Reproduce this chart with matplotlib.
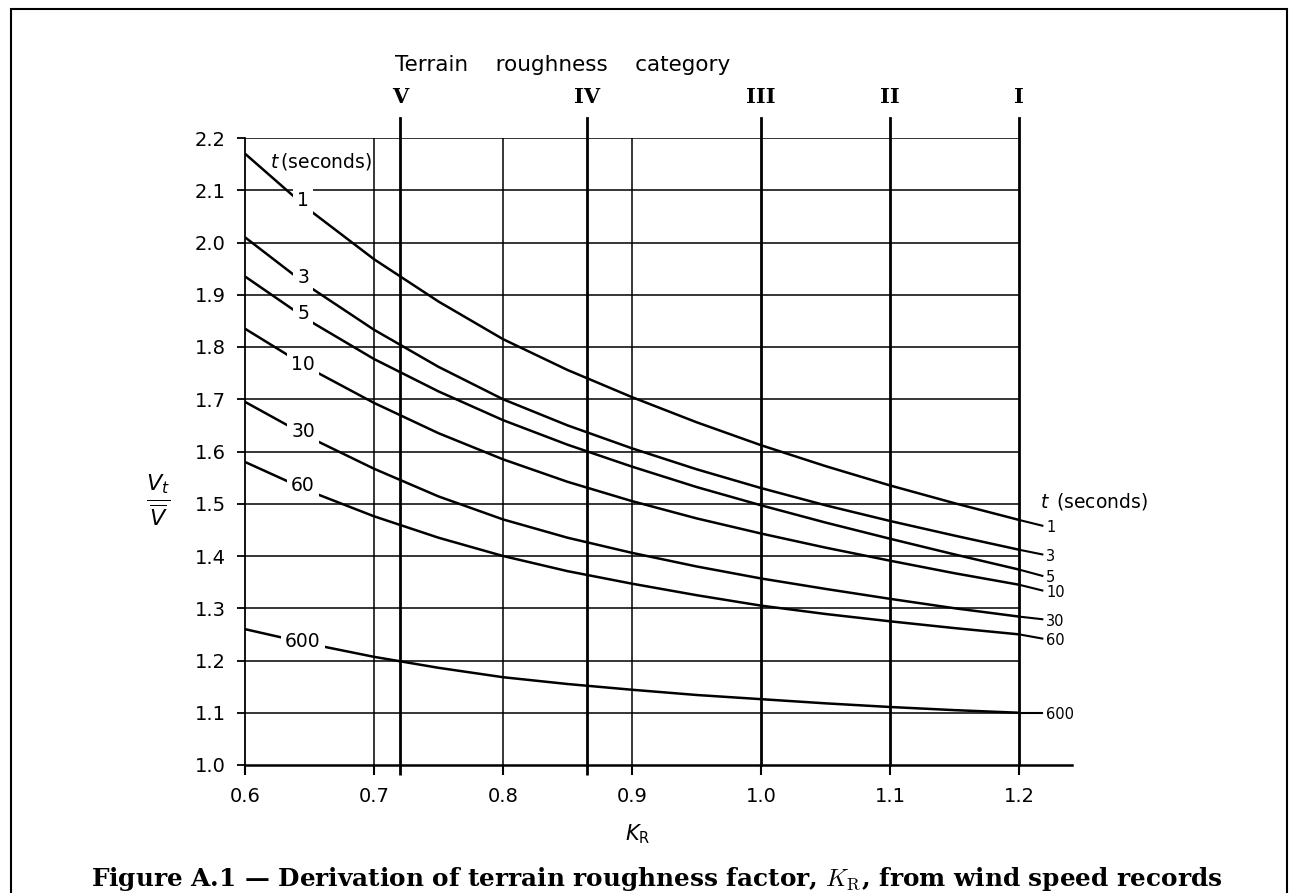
import matplotlib
matplotlib.use('Agg')
import matplotlib.pyplot as plt
from matplotlib.patches import Rectangle

# DATA
kr = [0.6, 0.65, 0.7, 0.75, 0.8, 0.85, 0.9, 0.95, 1.0, 1.05, 1.1, 1.15, 1.2]
t_labels = ['1', '3', '5', '10', '30', '60', '600']
ratio_t1 = [2.17, 2.062, 1.968, 1.887, 1.815, 1.756, 1.704, 1.656, 1.612, 1.572, 1.535, 1.501, 1.469]
ratio_t3 = [2.01, 1.915, 1.833, 1.762, 1.70, 1.65, 1.606, 1.566, 1.53, 1.497, 1.467, 1.439, 1.412]
ratio_t5 = [1.935, 1.85, 1.777, 1.715, 1.66, 1.613, 1.571, 1.532, 1.497, 1.464, 1.433, 1.403, 1.374]
ratio_t10 = [1.835, 1.759, 1.693, 1.635, 1.585, 1.542, 1.505, 1.472, 1.443, 1.416, 1.391, 1.367, 1.345]
ratio_t30 = [1.695, 1.627, 1.567, 1.514, 1.47, 1.435, 1.406, 1.38, 1.357, 1.337, 1.318, 1.30, 1.284]
ratio_t60 = [1.58, 1.524, 1.476, 1.435, 1.40, 1.371, 1.347, 1.325, 1.305, 1.289, 1.275, 1.262, 1.25]
ratio_t600 = [1.26, 1.232, 1.207, 1.186, 1.168, 1.155, 1.144, 1.134, 1.126, 1.118, 1.111, 1.105, 1.10]
curves = [ratio_t1, ratio_t3, ratio_t5, ratio_t10, ratio_t30, ratio_t60, ratio_t600]

left_label_y = [2.08, 1.933, 1.865, 1.767, 1.639, 1.535, 1.237]
right_label_y = [1.458, 1.403, 1.362, 1.334, 1.279, 1.242, 1.10]

category_names = ['V', 'IV', 'III', 'II', 'I']
category_kr = [0.72, 0.865, 1.0, 1.1, 1.2]

x_ticks = [0.6, 0.7, 0.8, 0.9, 1.0, 1.1, 1.2]
x_ticklabels = ['0.6', '0.7', '0.8', '0.9', '1.0', '1.1', '1.2']
y_ticks = [1.0, 1.1, 1.2, 1.3, 1.4, 1.5, 1.6, 1.7, 1.8, 1.9, 2.0, 2.1, 2.2]

plt.rcParams['font.family'] = ['DejaVu Sans']
plt.rcParams['mathtext.fontset'] = 'dejavusans'

fig = plt.figure(figsize=(12.98, 8.93), dpi=100)
ax = fig.add_axes([245 / 1298, 128 / 893, 827 / 1298, 627 / 893])
ax.set_xlim(0.6, 1.241)
ax.set_ylim(1.0, 2.2)

# GRID
for y in y_ticks[1:]:
    ax.plot([0.6, 1.2], [y, y], color='black', lw=1.1, zorder=1)
for x in [0.7, 0.8, 0.9]:
    ax.plot([x, x], [1.0, 2.2], color='black', lw=1.1, zorder=1)
for x in category_kr:
    ax.plot([x, x], [1.0, 2.238], color='black', lw=2.0, zorder=1, clip_on=False)

# CURVES AND LABELS
for vals, lab, ly, ry in zip(curves, t_labels, left_label_y, right_label_y):
    ax.plot(kr, vals, color='black', lw=1.8, zorder=2, solid_capstyle='butt', solid_joinstyle='round')
    ax.plot([kr[-1], 1.218], [vals[-1], ry], color='black', lw=1.5, zorder=2, clip_on=False)
    ax.text(1.221, ry - 0.004, lab, fontsize=10.5, ha='left', va='center', clip_on=False)
    ax.text(0.645, ly, lab, fontsize=13.5, ha='center', va='center', zorder=3,
            bbox=dict(facecolor='white', edgecolor='none', pad=3))

ax.text(0.619, 2.155, r'$t\,$(seconds)', fontsize=13.5, ha='left', va='center', zorder=3,
        bbox=dict(facecolor='white', edgecolor='none', pad=0.5))
ax.text(1.216, 1.505, r'$t\,$ (seconds)', fontsize=13.5, ha='left', va='center', clip_on=False)

for name, x in zip(category_names, category_kr):
    ax.text(x, 2.278, name, fontsize=15, ha='center', va='center',
            family='DejaVu Serif', fontweight='bold', clip_on=False)
ax.text(0.716, 2.34, 'Terrain    roughness    category', fontsize=15.5, ha='left', va='center', clip_on=False)

# AXES
for s in ['top', 'right']:
    ax.spines[s].set_visible(False)
ax.spines['left'].set_linewidth(1.3)
ax.spines['bottom'].set_linewidth(1.8)
ax.set_xticks(x_ticks)
ax.set_xticklabels(x_ticklabels)
ax.set_xticks([0.72, 0.865], minor=True)
ax.set_yticks(y_ticks)
ax.set_yticklabels(['%.1f' % v for v in y_ticks])
ax.tick_params(axis='x', which='both', direction='out', length=7, width=1.5, pad=9, labelsize=14)
ax.tick_params(axis='x', which='minor', width=2.0)
ax.tick_params(axis='y', direction='out', length=6, width=1.3, pad=8, labelsize=14)

ax.text(0.904, 0.868, r'$K_{\mathrm{R}}$', fontsize=15, ha='center', va='center', clip_on=False)
ax.text(0.5326, 1.507, r'$\frac{V_t}{\overline{V}}$', fontsize=23, ha='center', va='center', clip_on=False)

fig.text(657 / 1298, 1 - 879 / 893,
         r'Figure A.1 — Derivation of terrain roughness factor, $K_{\mathrm{R}}$, from wind speed records',
         fontsize=17.8, family='DejaVu Serif', fontweight='bold', ha='center', va='center',
         math_fontfamily='cm')

# BORDER
fig.add_artist(Rectangle((11 / 1298, -0.05), 1276 / 1298, 1.05 - 9 / 893, transform=fig.transFigure,
                         fill=False, edgecolor='black', lw=1.5))

fig.savefig('out.png', dpi=100)
